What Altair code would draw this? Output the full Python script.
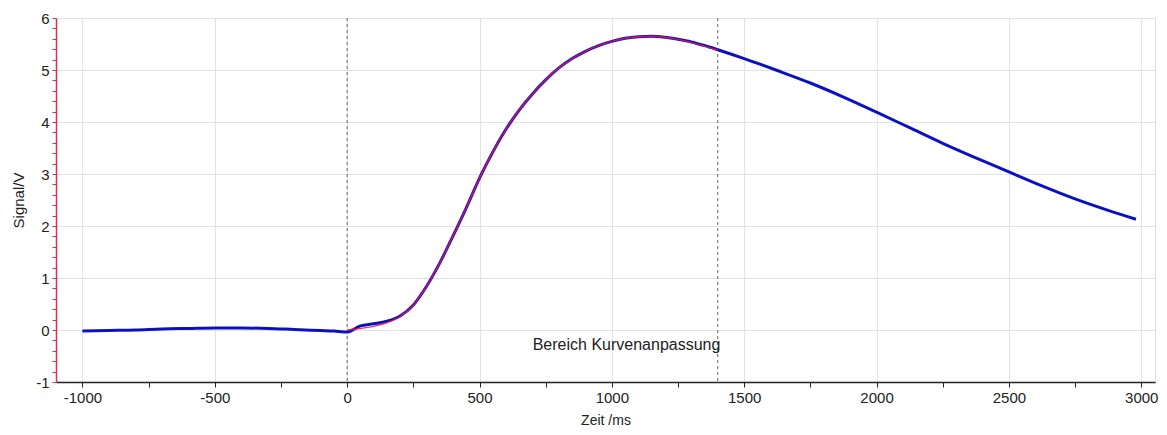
import altair as alt
import pandas as pd

t_meas = [-1000, -900, -800, -700, -600, -500, -400, -300, -200, -100, -50, 0,
          50, 100, 150, 200, 250, 300, 350, 400, 450, 500, 550, 600, 650, 700,
          750, 800, 850, 900, 950, 1000, 1050, 1100, 1150, 1200, 1250, 1300,
          1350, 1400, 1500, 1625, 1750, 1875, 2000, 2125, 2250, 2375, 2500,
          2625, 2750, 2875, 2980]
v_meas = [-0.02, -0.01, 0.0, 0.02, 0.03, 0.04, 0.04, 0.03, 0.01, -0.01, -0.02, -0.04,
          0.08, 0.12, 0.17, 0.27, 0.48, 0.84, 1.29, 1.81, 2.35, 2.92, 3.42, 3.86, 4.23, 4.54,
          4.81, 5.04, 5.22, 5.36, 5.47, 5.55, 5.61, 5.64, 5.65, 5.63, 5.59, 5.54,
          5.47, 5.39, 5.22, 4.99, 4.75, 4.48, 4.19, 3.89, 3.59, 3.31, 3.04,
          2.77, 2.52, 2.30, 2.13]

# fitted curve (red), range 0 .. 1400 ms
t_fit = [0, 50, 100, 150, 200, 250, 300, 350, 400, 450, 500, 550, 600, 650, 700,
         750, 800, 850, 900, 950, 1000, 1050, 1100, 1150, 1200, 1250, 1300, 1350, 1400]
v_fit = [0.0, 0.03, 0.07, 0.14, 0.26, 0.48, 0.84, 1.29, 1.81, 2.35, 2.92, 3.42, 3.86, 4.23, 4.54,
         4.81, 5.04, 5.22, 5.36, 5.47, 5.55, 5.61, 5.64, 5.65, 5.63, 5.59, 5.53, 5.46, 5.38]

# fit-range markers and label
marker_times = [0, 1400]
label_text = ["Bereich Kurvenanpassung"]
label_t = [1410]
label_v = [-0.29]

x_ticks = [-1000, -750, -500, -250, 0, 250, 500, 750, 1000, 1250, 1500, 1750,
           2000, 2250, 2500, 2750, 3000]
y_ticks = [-1, -0.8, -0.6, -0.4, -0.2, 0, 0.2, 0.4, 0.6, 0.8, 1, 1.2, 1.4, 1.6, 1.8,
           2, 2.2, 2.4, 2.6, 2.8, 3, 3.2, 3.4, 3.6, 3.8, 4, 4.2, 4.4, 4.6, 4.8,
           5, 5.2, 5.4, 5.6, 5.8, 6]

FONT = "Liberation Sans"

meas = pd.DataFrame({"t": t_meas, "v": v_meas})
fit = pd.DataFrame({"t": t_fit, "v": v_fit})
marks = pd.DataFrame({"t": marker_times})
lab = pd.DataFrame({"t": label_t, "v": label_v, "txt": label_text})

x_enc = alt.X(
    "t:Q",
    scale=alt.Scale(domain=[-1100, 3052], nice=False, zero=False),
    axis=alt.Axis(
        values=x_ticks,
        labelExpr="datum.value % 500 == 0 ? ('' + datum.value) : ''",
        title="Zeit /ms",
        titleFont=FONT, titleFontSize=14, titleFontWeight="normal", titleColor="#222",
        titleY=38, titleBaseline="middle",
        labelFont=FONT, labelFontSize=15, labelColor="#222", labelPadding=3,
        tickSize=5, tickColor="#222", domainColor="#222", domainWidth=1.5,
        grid=True, gridColor="#e3e3e3", gridWidth=1,
        gridOpacity={"condition": {"test": "datum.value % 500 == 0", "value": 1}, "value": 0},
    ),
)
y_enc = alt.Y(
    "v:Q",
    scale=alt.Scale(domain=[-1, 6], nice=False, zero=False),
    axis=alt.Axis(
        values=y_ticks,
        labelExpr="abs(datum.value - round(datum.value)) < 0.001 ? ('' + round(datum.value)) : ''",
        title="Signal/V",
        titleFont=FONT, titleFontSize=15, titleFontWeight="normal", titleColor="#222",
        titleX=-38, titleY=182, titleBaseline="middle", titleAlign="center",
        labelFont=FONT, labelFontSize=15, labelColor="#222", labelPadding=3,
        tickSize=4, tickColor="#d8324f", domainColor="#d8324f", domainWidth=1.5,
        grid=True, gridColor="#e3e3e3", gridWidth=1,
        gridOpacity={"condition": {"test": "abs(datum.value - round(datum.value)) < 0.001", "value": 1}, "value": 0},
    ),
)

rules = alt.Chart(marks).mark_rule(color="#666666", strokeDash=[3, 3], strokeWidth=1).encode(
    x=x_enc
)
blue = alt.Chart(meas).mark_line(color="#0a14e6", strokeWidth=3, interpolate="monotone").encode(
    x=x_enc, y=y_enc
)
core = alt.Chart(meas).mark_line(color="#10105a", strokeWidth=0.7, interpolate="monotone").encode(
    x=x_enc, y=y_enc
)
red = alt.Chart(fit).mark_line(color="#e8193c", strokeWidth=1.4, opacity=0.85, interpolate="monotone").encode(
    x=x_enc, y=y_enc
)
text = alt.Chart(lab).mark_text(align="right", baseline="middle", font=FONT, fontSize=16, color="#222").encode(
    x=x_enc, y=y_enc, text="txt:N"
)

chart = alt.layer(rules, blue, core, red, text).properties(
    width=1099,
    height=364,
    padding={"left": 48, "top": 10, "right": 4, "bottom": 45},
    autosize=alt.AutoSizeParams(type="none"),
).configure_view(stroke=None).configure(background="white")

chart.save("out.html", embed_options={"renderer": "svg", "actions": False})
